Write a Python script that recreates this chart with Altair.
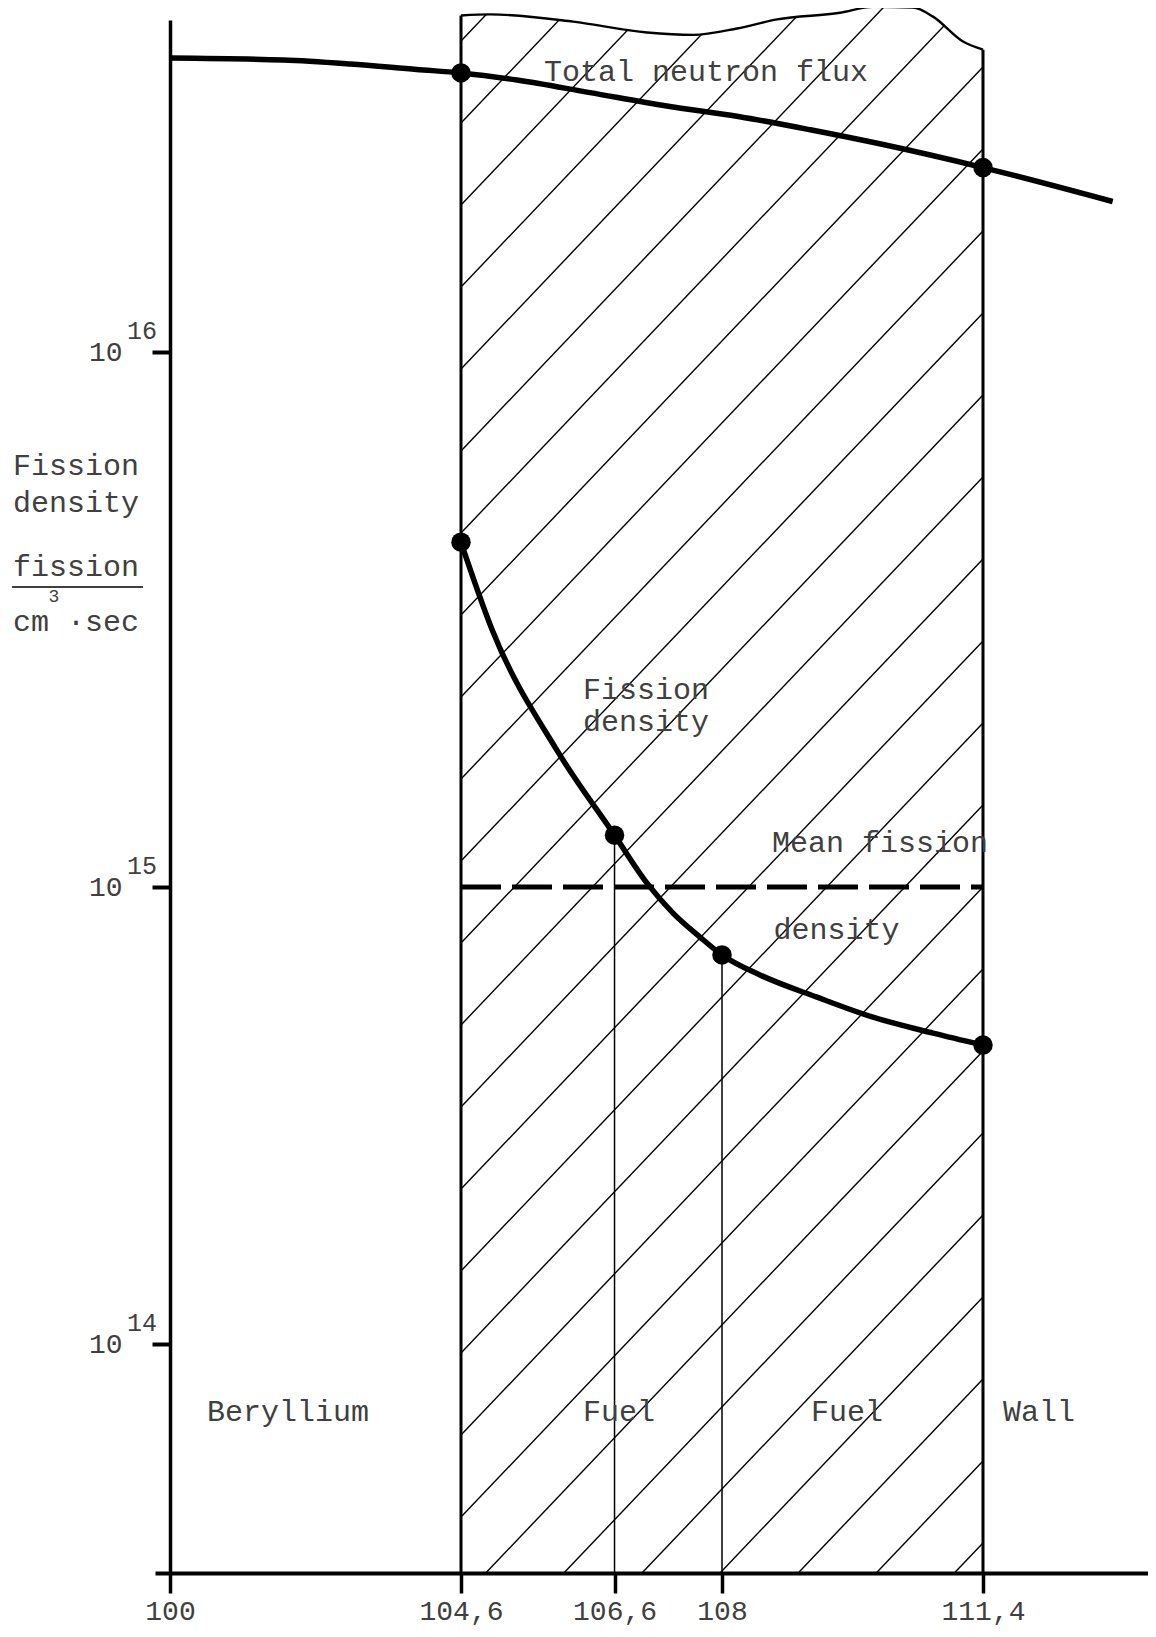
import altair as alt
import pandas as pd
import numpy as np

FONT = "Liberation Mono"
INK = "#000000"
TXT = "#404040"

# ---------------- values ----------------
# total neutron flux curve (traced) and its two marked points
flux_x = [100.0, 101.79, 102.85, 103.90, 104.6, 105.33, 106.28, 107.28, 108.23, 109.15, 110.10, 111.4, 113.09]
flux_y = [3.54e16, 3.51e16, 3.45e16, 3.37e16, 3.32e16, 3.22e16, 3.05e16, 2.88e16, 2.75e16, 2.60e16, 2.44e16, 2.21e16, 1.91e16]
flux_pts_x = [104.6, 111.4]
flux_pts_y = [3.32e16, 2.21e16]

# fission density curve (traced) and its marked points
fis_x = [104.6, 105.004, 105.851, 106.6, 107.023, 107.362, 107.714,
         108.0, 108.495, 109.238, 109.967, 110.749, 111.4]
fis_y = [4.41e15, 3.03e15, 1.80e15, 1.25e15, 1.017e15, 8.77e14, 7.77e14,
         7.10e14, 6.42e14, 5.74e14, 5.19e14, 4.79e14, 4.51e14]
fis_pts_x = [104.6, 106.6, 108.0, 111.4]
fis_pts_y = [4.41e15, 1.25e15, 7.10e14, 4.51e14]

# mean fission density
mean_x = [104.6, 111.4]
mean_y = 1.0e15

# fuel-zone walls and wavy top edge
wall_x = [104.6, 111.4]
wall_top = [4.25e16, 3.67e16]
edge_x = [104.6, 104.978, 106.059, 107.023, 107.622, 108.196, 108.717, 109.537, 109.967,
          110.488, 110.749, 111.14, 111.4]
edge_y = [4.25e16, 4.27e16, 4.14e16, 3.95e16, 3.91e16, 4.02e16, 4.18e16, 4.30e16, 4.41e16,
          4.40e16, 4.23e16, 3.80e16, 3.67e16]

x_ticks = [100, 104.6, 106.6, 108, 111.4]
x_tick_labels = ["100", "104,6", "106,6", "108", "111,4"]
y_ticks = [1e14, 1e15, 1e16]
y_tick_exp = ["14", "15", "16"]

# ---------------- scales (hand-drawn, piecewise) ----------------
W, H = 993, 1553
X_DOM = [99.763, 104.6, 111.4, 113.55]
X_RNG = [0, 306, 828, W]
Y_DOM = [10 ** 13.5, 1e14, 1e15, 1e16, 10 ** 16.62]
Y_RNG = [H, 1324, 867, 332, 0]
Y_BOTTOM = Y_DOM[0]

xs = alt.Scale(type="linear", domain=X_DOM, range=X_RNG, nice=False, zero=False)
ys = alt.Scale(type="log", domain=Y_DOM, range=Y_RNG, nice=False)

lab_expr = " : ".join(f"datum.value == {v} ? '{t}'" for v, t in zip(x_ticks, x_tick_labels)) + " : datum.label"

xa = alt.Axis(values=x_ticks, labelExpr=lab_expr, title=None, grid=False,
              domainColor=INK, domainWidth=4, tickColor=INK, tickWidth=3.5, tickSize=20,
              labelFont=FONT, labelFontSize=28, labelColor=TXT, labelPadding=4,
              labelFlush=False, labelOverlap=False)
ya = alt.Axis(values=y_ticks, labelExpr="'10'", title=None, grid=False, offset=-15,
              domainColor=INK, domainWidth=3.5, tickColor=INK, tickWidth=4, tickSize=18,
              labelFont=FONT, labelFontSize=28, labelColor=TXT, labelPadding=30,
              labelOverlap=False)


def X(f):
    return alt.X(f, type="quantitative", scale=xs, axis=xa)


def Y(f):
    return alt.Y(f, type="quantitative", scale=ys, axis=ya)


def XD(v):
    return alt.XDatum(v, type="quantitative", scale=xs, axis=xa)


def YD(v):
    return alt.YDatum(v, type="quantitative", scale=ys, axis=ya)


# ---------------- hatch pattern of the fuel zone ----------------
def x_of_px(p):
    i = 0 if p <= X_RNG[1] else (1 if p <= X_RNG[2] else 2)
    return X_DOM[i] + (p - X_RNG[i]) * (X_DOM[i + 1] - X_DOM[i]) / (X_RNG[i + 1] - X_RNG[i])


def y_of_px(p):
    ld = [np.log10(v) for v in Y_DOM]
    r = Y_RNG
    if p >= r[1]:
        i = 0
    elif p >= r[2]:
        i = 1
    elif p >= r[3]:
        i = 2
    else:
        i = 3
    return 10 ** (ld[i] + (p - r[i]) * (ld[i + 1] - ld[i]) / (r[i + 1] - r[i]))


SLOPE, GAP, Y0, TOPPX = 1.05, 82, 1497, -14
XL, XR = X_RNG[1], X_RNG[2]
segs = []
for k in range(-12, 30):
    yl = Y0 - GAP * k
    if yl < TOPPX:
        continue
    if yl > H:
        sx, sy = XL + (yl - H) / SLOPE, H
        if sx >= XR:
            continue
    else:
        sx, sy = XL, yl
    xt = XL + (yl - TOPPX) / SLOPE
    if xt <= XR:
        ex, ey = xt, TOPPX
    else:
        ex, ey = XR, yl - SLOPE * (XR - XL)
    segs.append({"x": x_of_px(sx), "y": y_of_px(sy), "x2": x_of_px(ex), "y2": y_of_px(ey)})
hatch_df = pd.DataFrame(segs)

hatch = alt.Chart(hatch_df).mark_rule(color=INK, strokeWidth=1.4).encode(
    x=X("x"), y=Y("y"), x2="x2", y2="y2")

edge_df = pd.DataFrame({"x": edge_x, "y": edge_y, "top": [1e17] * len(edge_x)})
mask = alt.Chart(edge_df).mark_area(color="white", opacity=1, interpolate="monotone").encode(
    x=X("x"), y=Y("y"), y2="top")
edge = alt.Chart(edge_df).mark_line(color=INK, strokeWidth=2.4, interpolate="monotone").encode(
    x=X("x"), y=Y("y"))

walls_df = pd.DataFrame({"x": wall_x, "y": wall_top, "b": [Y_BOTTOM] * 2})
walls = alt.Chart(walls_df).mark_rule(color=INK, strokeWidth=3).encode(x=X("x"), y=Y("y"), y2="b")

inner_df = pd.DataFrame({"x": fis_pts_x[1:3], "y": fis_pts_y[1:3], "b": [Y_BOTTOM] * 2})
inner = alt.Chart(inner_df).mark_rule(color=INK, strokeWidth=1.5).encode(x=X("x"), y=Y("y"), y2="b")

mean_df = pd.DataFrame({"x": [mean_x[0]], "x2": [mean_x[1]], "y": [mean_y]})
mean = alt.Chart(mean_df).mark_rule(color=INK, strokeWidth=5, strokeDash=[40, 11], strokeCap="butt").encode(
    x=X("x"), x2="x2", y=Y("y"))

fis_line = alt.Chart(pd.DataFrame({"x": fis_x, "y": fis_y})).mark_line(
    color=INK, strokeWidth=5.5, interpolate="monotone").encode(x=X("x"), y=Y("y"))
flux_line = alt.Chart(pd.DataFrame({"x": flux_x, "y": flux_y})).mark_line(
    color=INK, strokeWidth=5.5, interpolate="monotone").encode(x=X("x"), y=Y("y"))

pts_df = pd.DataFrame({"x": fis_pts_x + flux_pts_x, "y": fis_pts_y + flux_pts_y})
dots = alt.Chart(pts_df).mark_circle(color=INK, size=380, opacity=1).encode(x=X("x"), y=Y("y"))

exp_df = pd.DataFrame({"v": y_ticks, "t": y_tick_exp})
exps = alt.Chart(exp_df).mark_text(font=FONT, fontSize=25, color=TXT, align="center", baseline="middle",
                                   dx=-28, dy=-21).encode(x=XD(100), y=Y("v"), text="t:N")

one = pd.DataFrame({"a": [0]})


def note(text, x, y, size=30):
    return alt.Chart(one).mark_text(text=text, font=FONT, fontSize=size, color=TXT,
                                    align="left", baseline="middle").encode(x=XD(x), y=YD(y))


def side(text, px, py, size=30, align="left"):
    return alt.Chart(one).mark_text(text=text, font=FONT, fontSize=size, color=TXT,
                                    align=align, baseline="middle").encode(x=alt.value(px), y=alt.value(py))


notes = [
    note("Total neutron flux", 105.68, 3.33e16),
    note("Fission", 106.19, 2.33e15),
    note("density", 106.19, 2.03e15),
    note("Mean fission", 108.65, 1.21e15),
    note("density", 108.67, 8.05e14),
    note("Beryllium", 100.585, 7.10e13),
    note("Fuel", 106.19, 7.10e13),
    note("Fuel", 109.16, 7.10e13),
    note("Wall", 111.66, 7.10e13),
    side("Fission", -142, 446),
    side("density", -142, 483),
    side("fission", -142, 547),
    side("cm ·sec", -142, 602),
    side("3", -101, 577, size=18, align="center"),
]
underline = alt.Chart(one).mark_rule(color=TXT, strokeWidth=2).encode(
    x=alt.value(-143), x2=alt.value(-12), y=alt.value(567))

chart = alt.layer(
    hatch, mask, edge, walls, inner, mean, fis_line, flux_line, dots, exps, *notes, underline
).properties(
    width=W, height=H,
    padding={"left": 147, "top": 12, "right": 0, "bottom": 56},
    autosize=alt.AutoSizeParams(type="none"),
    background="white",
).configure_view(strokeWidth=0)

chart.save("out.html", embed_options={"renderer": "svg", "actions": False})
